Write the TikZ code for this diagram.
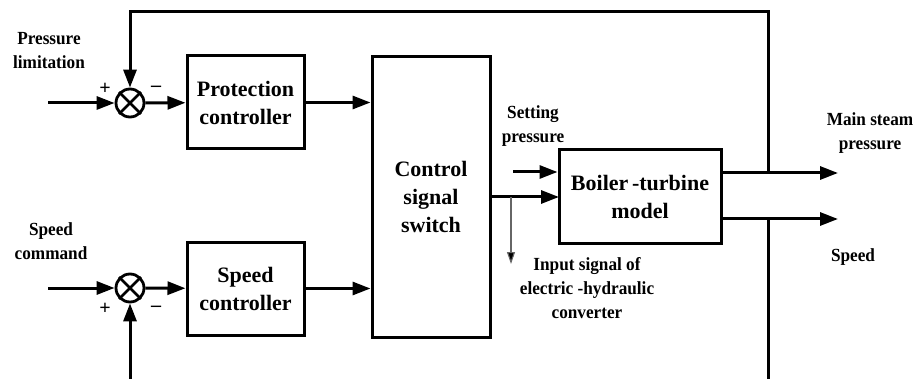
\documentclass[tikz,border=0pt]{standalone}
\usepackage{fontspec}
\setmainfont{Liberation Serif}
\newfontfamily\labfont[FakeStretch=0.93]{Liberation Serif}
\usetikzlibrary{arrows.meta}
\begin{document}
\begin{tikzpicture}[x=1pt,y=-1pt,
  line width=3pt,
  arr/.style={-{Triangle[length=18pt,width=13pt]}},
  thinarr/.style={line width=1.1pt,draw=black!60,-{Triangle[length=12pt,width=8pt,fill=black]}},
  blk/.style={draw,line width=3pt,inner sep=0pt,align=center,font=\fontsize{22}{28}\selectfont\bfseries},
  sumnode/.style={circle,draw,line width=2.8pt,minimum size=28pt,inner sep=0pt},
  lab/.style={align=center,inner sep=0pt,font=\fontsize{18.5}{24}\labfont\bfseries},
  sgn/.style={inner sep=0pt,font=\fontsize{20}{20}\selectfont\bfseries}
]
\useasboundingbox (0,0) rectangle (917,379);
% summing junctions
\node[sumnode] (s1) at (130,103) {};
\node[sumnode] (s2) at (130,288) {};
\draw[line width=2.8pt] (s1.north west) -- (s1.south east) (s1.north east) -- (s1.south west);
\draw[line width=2.8pt] (s2.north west) -- (s2.south east) (s2.north east) -- (s2.south west);
% blocks
\node[blk,minimum width=117pt,minimum height=93pt] (pc) at (245.5,102.5) {Protection\\controller};
\node[blk,minimum width=117pt,minimum height=93pt] (sc) at (245.5,288.5) {Speed\\controller};
\node[blk,minimum width=118pt,minimum height=280pt] (sw) at (431,197) {Control\\signal\\switch};
\node[blk,minimum width=162pt,minimum height=93pt] (bt) at (640,196.5) {Boiler\,-turbine\\model};
% coordinates
\coordinate (in1) at (48,103);
\coordinate (in2) at (48,288);
\coordinate (tl) at (130,12);
\coordinate (tr) at (768,12);
\coordinate (j1) at (768,173);
\coordinate (j2) at (768,219);
\coordinate (br) at (768,379);
\coordinate (bl) at (130,379);
\coordinate (o1) at (838,173);
\coordinate (o2) at (838,219);
\coordinate (sp) at (513,172);
\coordinate (b2) at (559,197);
\coordinate (tb) at (511,197);
\coordinate (te) at (511,264);
% connectors
\draw[arr] (in1) -- (s1);
\draw[arr] (in2) -- (s2);
\draw[arr] (s1) -- (pc);
\draw[arr] (s2) -- (sc);
\draw[arr] (pc) -- (pc -| sw.west);
\draw[arr] (sc) -- (sc -| sw.west);
\draw[arr] (j1) -- (tr) -- (tl) -- (s1.north);
\draw[arr] (bl) -- (s2.south);
\draw (j2) -- (br);
\draw[arr] (sp) -- (sp -| bt.west);
\draw[arr] (b2 -| sw.east) -- (b2);
\draw[thinarr] (tb) -- (te);
\draw[arr] (bt.east |- o1) -- (o1);
\draw[arr] (bt.east |- o2) -- (o2);
% labels
\node[lab] (l1) at (49,51) {Pressure\\limitation};
\node[lab] (l2) at (51,241.5) {Speed\\command};
\node[lab] (l3) at (533,126) {Setting\\pressure};
\node[lab] (l4) at (870,133.5) {Main steam\\pressure};
\node[lab] (l5) at (853,257) {Speed};
\node[lab] (l6) at (587,288.5) {Input signal of\\electric -hydraulic\\converter};
\node[sgn] (p1) at (105,89) {+};
\node[sgn] (m1) at (156,89) {–};
\node[sgn] (p2) at (105,309) {+};
\node[sgn] (m2) at (156,309) {–};
\end{tikzpicture}
\end{document}
